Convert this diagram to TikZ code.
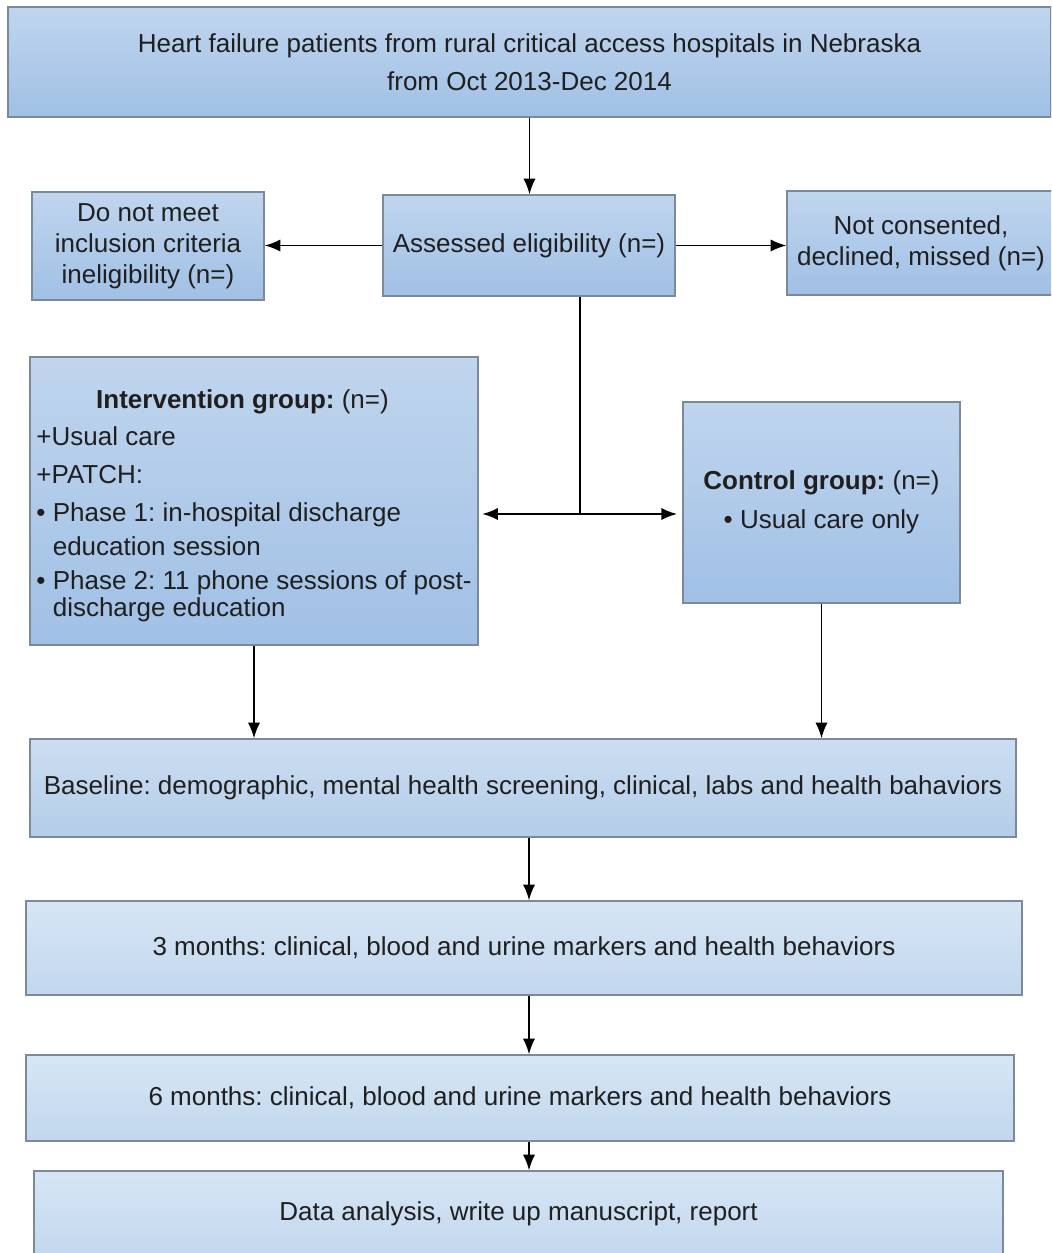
\documentclass[tikz,border=0pt]{standalone}
\usepackage{fontspec}
\setmainfont{Liberation Sans}
\frenchspacing
\usetikzlibrary{
    arrows.meta % for the filled arrow tips
}
\definecolor{boxtop}{HTML}{C0D5EE}
\definecolor{boxbottom}{HTML}{A0C0E5}
\definecolor{midtop}{HTML}{CCDEF1}
\definecolor{midbottom}{HTML}{B4CCE9}
\definecolor{paletop}{HTML}{D6E6F5}
\definecolor{palebottom}{HTML}{C2D7EE}
\definecolor{boxline}{HTML}{7C8998}

\begin{document}
\begin{tikzpicture}[
        x=0.02cm,y=-0.02cm,>={Latex[length=9pt,width=7pt]},
        every node/.style    = {font=\fontsize{14.8}{17.6}\selectfont,text=black!88},
        box size/.style 2 args = {minimum width=#1*0.02cm,minimum height=#2*0.02cm},
        flow box/.style      = {draw=boxline,line width=0.7pt,top color=boxtop,bottom color=boxbottom,inner sep=0pt,align=center},
        mid box/.style       = {flow box,top color=midtop,bottom color=midbottom},
        pale box/.style      = {flow box,top color=paletop,bottom color=palebottom},
        arrow/.style         = {->,line width=1.1pt}
    ]
    \useasboundingbox (0,0) rectangle (1051,1253);
    \clip (0,0) rectangle (1051,1253);

    % recruitment and screening

        \node [flow box,box size={1043}{110}] (patients)   at (529.5,62)  {Heart failure patients from rural critical access hospitals in Nebraska\\[3.9pt]from Oct 2013-Dec 2014};
        \node [flow box,box size={232}{108}]  (ineligible) at (148,246)   {Do not meet\\inclusion criteria\\ineligibility (n=)};
        \node [flow box,box size={292}{101}]  (assessed)   at (529,245.5) {Assessed eligibility (n=)};
        \node [flow box,box size={268}{104}]  (declined)   at (921,243)   {Not consented,\\declined, missed (n=)};

    % the two groups

        \node [flow box,box size={448}{288},align=left] (interv) at (254,501)
            {\rule{0pt}{16pt}\hspace*{34pt}\textbf{Intervention group:} (n=)\\[3.4pt]
             +Usual care\\[4pt]
             +PATCH:\\[4.5pt]
             •\ Phase 1: in-hospital discharge\\[1.7pt]
             \phantom{•\ }education session\\[1.7pt]
             •\ Phase 2: 11 phone sessions of post-\\[-2.3pt]
             \phantom{•\ }discharge education};
        \node [flow box,box size={277}{201}] (control) at (821.5,502.5) {\textbf{Control group:} (n=)\\[4.5pt]•\ Usual care only};

    % follow-up

        \node [mid box,box size={986}{98}]  (baseline) at (523,788)    {Baseline: demographic, mental health screening, clinical, labs and health bahaviors};
        \node [pale box,box size={996}{94}] (month3)   at (524,948)    {3 months: clinical, blood and urine markers and health behaviors};
        \node [pale box,box size={988}{86}] (month6)   at (520,1098)   {6 months: clinical, blood and urine markers and health behaviors};
        \node [pale box,box size={969}{86}] (analysis) at (518.5,1214) {Data analysis, write up manuscript, report};

    % connectors

        \coordinate (split) at (580,514);
        \draw [arrow] (patients.south) -- (patients.south |- assessed.north);
        \draw [arrow] (assessed.west)  -- (ineligible.east |- assessed.west);
        \draw [arrow] (assessed.east)  -- (declined.west |- assessed.east);
        \draw [line width=1.1pt] (assessed.south -| split) -- (split);
        \draw [arrow,shorten >=2pt] (split) -- (interv.east |- split);
        \draw [arrow,shorten >=3pt] (split) -- (control.west |- split);
        \draw [arrow] (interv.south)  -- (interv.south |- baseline.north);
        \draw [arrow] (control.south) -- (control.south |- baseline.north);
        \draw [arrow] (baseline.south -| assessed) -- (month3.north -| assessed);
        \draw [arrow] (month3.south -| assessed)   -- (month6.north -| assessed);
        \draw [arrow] (month6.south -| assessed)   -- (analysis.north -| assessed);

\end{tikzpicture}
\end{document}
